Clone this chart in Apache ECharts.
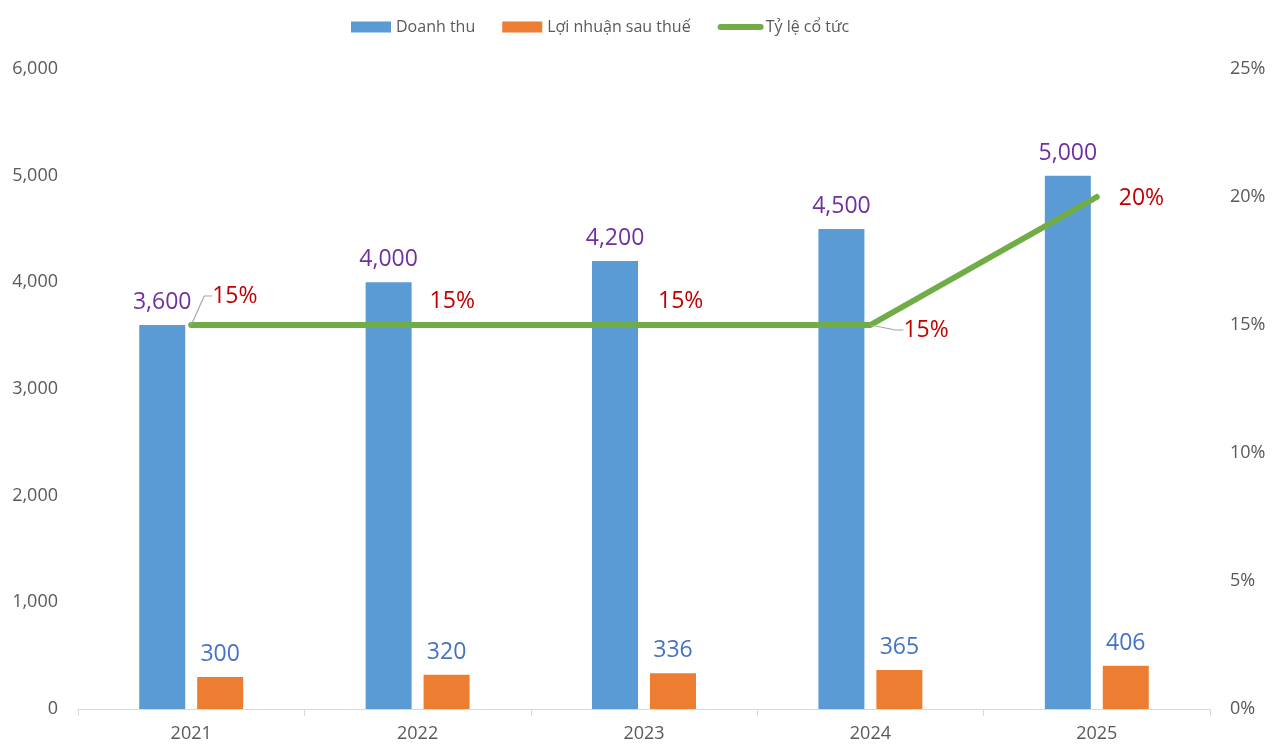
<!DOCTYPE html>
<html>
<head>
<meta charset="utf-8">
<script src="https://cdn.jsdelivr.net/npm/echarts@6/dist/echarts.min.js"></script>
<style>html,body{margin:0;padding:0;background:#fff}#c{width:1277px;height:744px}</style>
</head>
<body>
<div id="c"></div>
<script>
const years = ['2021', '2022', '2023', '2024', '2025'];
const revenue = [3600, 4000, 4200, 4500, 5000];
const profit = [300, 320, 336, 365, 406];
const dividend = [0.15, 0.15, 0.15, 0.15, 0.20];
const seriesNames = ['Doanh thu', 'Lợi nhuận sau thuế', 'Tỷ lệ cổ tức'];
const leftTicks = { min: 0, max: 6000, interval: 1000 };
const rightTicks = { min: 0, max: 0.25, interval: 0.05 };

const FONT = 'Open Sans';
const labelShift = [[21, -29], [12, -24], [14, -24], [33, 5], [22, 1]];
const showLeader = [true, false, false, true, false];

const chart = echarts.init(document.getElementById('c'), null, { renderer: 'canvas' });
chart.setOption({
  animation: false,
  textStyle: { fontFamily: FONT },
  legend: {
    top: 14, left: 346,
    itemWidth: 40, itemHeight: 11, itemGap: 27, itemTextGap: 5,
    textStyle: { fontFamily: FONT, fontSize: 16, color: '#595959' },
    data: [
      { name: seriesNames[0], icon: 'rect' },
      { name: seriesNames[1], icon: 'rect' },
      { name: seriesNames[2], lineStyle: { width: 6, cap: 'round' }, itemStyle: { opacity: 0 } }
    ]
  },
  grid: { left: 78, right: 67, top: 69, bottom: 35, containLabel: false },
  xAxis: {
    type: 'category', data: years,
    axisLine: { lineStyle: { color: '#D9D9D9', width: 1 } },
    axisTick: { show: true, length: 7, lineStyle: { color: '#D9D9D9' } },
    axisLabel: { color: '#595959', fontSize: 18, fontFamily: FONT, margin: 16 }
  },
  yAxis: [
    {
      type: 'value', min: leftTicks.min, max: leftTicks.max, interval: leftTicks.interval,
      axisLine: { show: false }, axisTick: { show: false }, splitLine: { show: false },
      axisLabel: { color: '#595959', fontSize: 18, fontFamily: FONT, margin: 20,
        formatter: v => v.toLocaleString('en-US') }
    },
    {
      type: 'value', min: rightTicks.min, max: rightTicks.max, interval: rightTicks.interval,
      axisLine: { show: false }, axisTick: { show: false }, splitLine: { show: false },
      axisLabel: { color: '#595959', fontSize: 18, fontFamily: FONT, margin: 20,
        formatter: v => Math.round(v * 100) + '%' }
    }
  ],
  series: [
    {
      name: seriesNames[0], type: 'bar', data: revenue, barWidth: 46, barGap: '26%',
      itemStyle: { color: '#5B9BD5' },
      label: { show: true, position: 'top', distance: 11, color: '#7030A0', fontSize: 23, fontFamily: FONT,
        formatter: p => p.value.toLocaleString('en-US') }
    },
    {
      name: seriesNames[1], type: 'bar', data: profit, barWidth: 46,
      itemStyle: { color: '#ED7D31' },
      label: { show: true, position: 'top', distance: 11, color: '#4472C4', fontSize: 23, fontFamily: FONT,
        formatter: p => p.value.toLocaleString('en-US') }
    },
    {
      name: seriesNames[2], type: 'line', yAxisIndex: 1,
      data: dividend.map((v, i) => ({ value: v, labelLine: { show: showLeader[i] } })),
      symbol: 'circle', symbolSize: 0.01, showSymbol: true,
      lineStyle: { color: '#70AD47', width: 6, cap: 'round', join: 'round' },
      itemStyle: { color: '#70AD47' },
      label: { show: true, position: 'right', distance: 0, color: '#C00000', fontSize: 23, fontFamily: FONT,
        formatter: p => Math.round(p.value * 100) + '%' },
      labelLine: { show: false, length2: 8, lineStyle: { color: '#A6A6A6', width: 1.2 } },
      labelLayout: p => ({ dx: labelShift[p.dataIndex][0], dy: labelShift[p.dataIndex][1] }),
      z: 5
    }
  ]
});
</script>
</body>
</html>
